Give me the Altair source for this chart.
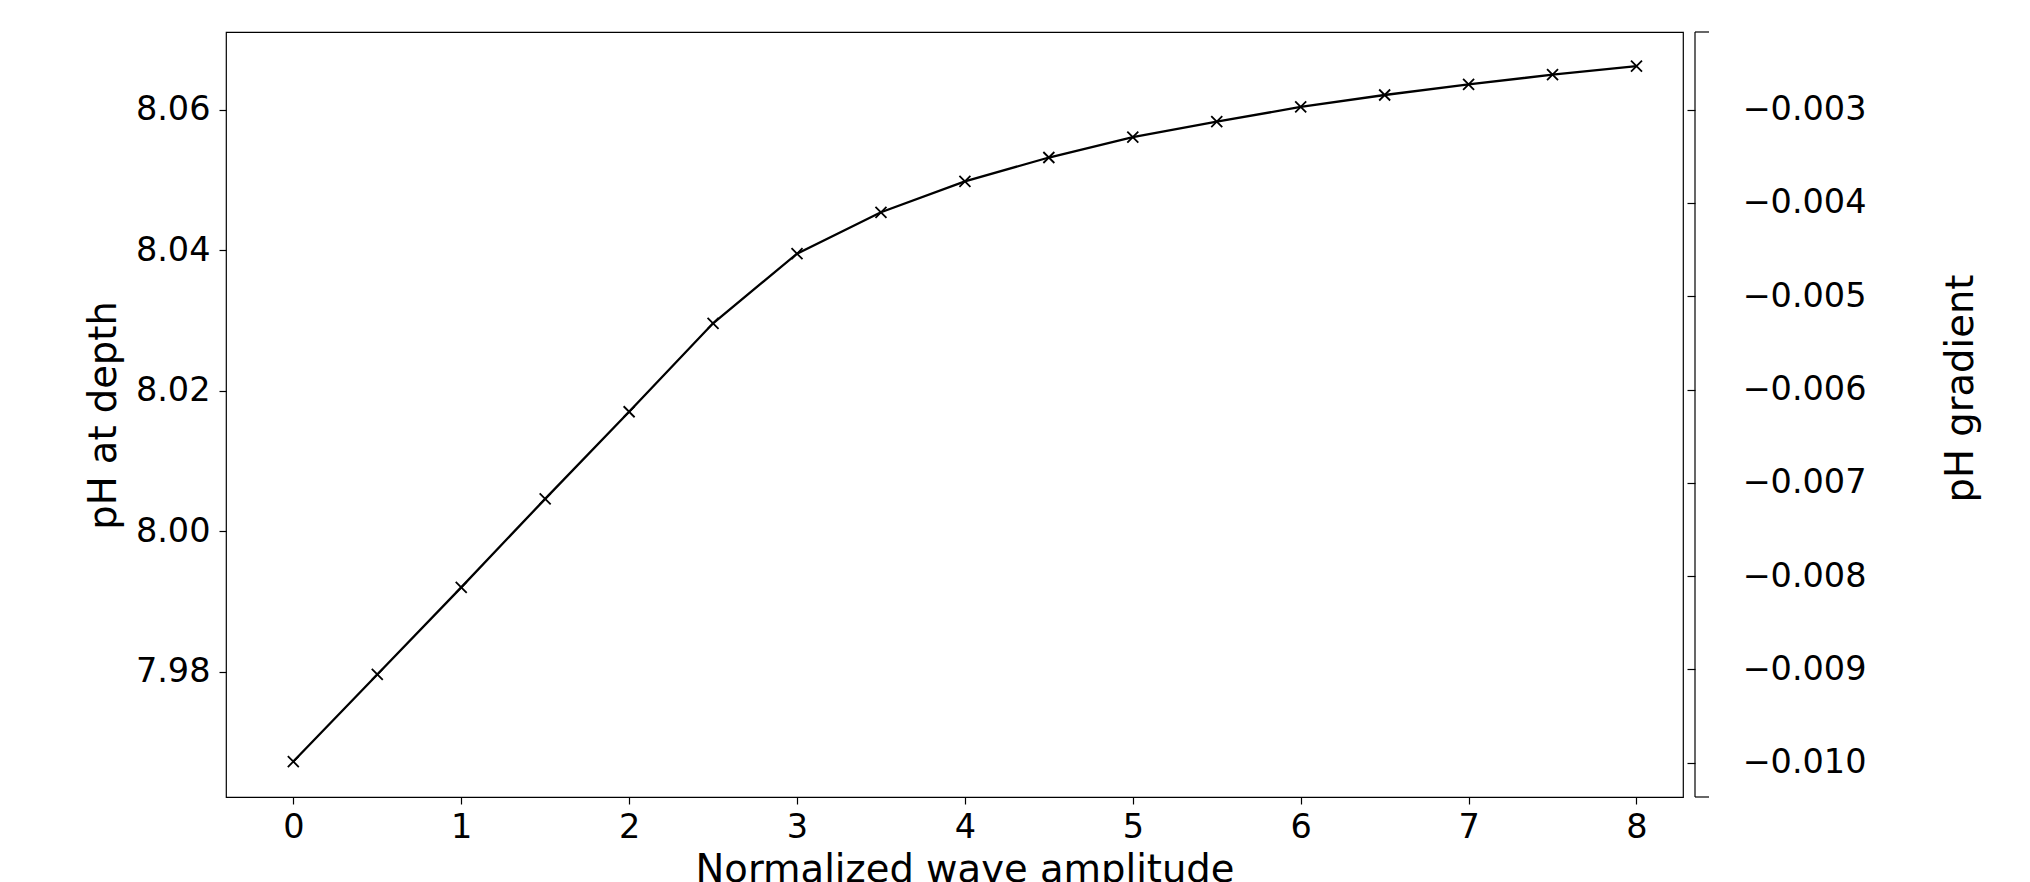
import altair as alt
import pandas as pd

# ---- data ----
amplitude = [0, 0.5, 1, 1.5, 2, 2.5, 3, 3.5, 4, 4.5, 5, 5.5, 6, 6.5, 7, 7.5, 8]
ph_depth = [7.9672, 7.9796, 7.9920, 8.0046, 8.0170, 8.0296, 8.0395, 8.0454,
            8.0498, 8.0532, 8.0561, 8.0583, 8.0604, 8.0621, 8.0636, 8.0650, 8.0662]
x_ticks = [0, 1, 2, 3, 4, 5, 6, 7, 8]
ph_ticks = [7.98, 8.00, 8.02, 8.04, 8.06]
grad_ticks = [-0.010, -0.009, -0.008, -0.007, -0.006, -0.005, -0.004, -0.003]
x_domain = [-0.401, 8.277]
ph_domain = [7.96215, 8.07107]
grad_domain = [-0.010368, -0.002167]

df = pd.DataFrame({"amp": amplitude, "ph": ph_depth})
grad_df = pd.DataFrame({"g": grad_domain})

FONT = "DejaVu Sans"
W, H = 1457, 765

x_enc = alt.X(
    "amp:Q",
    scale=alt.Scale(domain=x_domain, nice=False, zero=False),
    axis=alt.Axis(values=x_ticks, format="d", title="Normalized wave amplitude",
                  tickSize=7, labelPadding=7, titleX=738.5, titleY=84,
                  titleBaseline="alphabetic", titleAlign="center"),
)
y_enc = alt.Y(
    "ph:Q",
    scale=alt.Scale(domain=ph_domain, nice=False, zero=False),
    axis=alt.Axis(values=ph_ticks, format=".2f", title="pH at depth",
                  tickSize=7, labelPadding=9, titleAngle=270, titleX=-111, titleY=383,
                  titleBaseline="alphabetic", titleAlign="center"),
)

base = alt.Chart(df)
line = base.mark_line(color="black", strokeWidth=2.3).encode(x=x_enc, y=y_enc)
pts = base.mark_point(shape="M-1,-1L1,1M-1,1L1,-1", filled=False, color="black",
                      strokeWidth=1.8, size=121, opacity=1).encode(x="amp:Q", y="ph:Q")
left = alt.layer(line, pts)

caps = alt.Chart(grad_df).mark_rule(color="black", strokeWidth=1.2).encode(
    y=alt.Y("g:Q", scale=alt.Scale(domain=grad_domain, nice=False, zero=False),
            axis=alt.Axis(orient="right", values=grad_ticks, format=".3f",
                          title="pH gradient", offset=4, tickSize=8, labelPadding=47,
                          titleAngle=270, titleX=285, titleY=356,
                          titleBaseline="alphabetic", titleAlign="center")),
    x=alt.value(W + 12), x2=alt.value(W + 26),
)
spine = alt.Chart(grad_df.head(1)).mark_rule(color="black", strokeWidth=1.2).encode(
    x=alt.value(W + 12), y=alt.value(0), y2=alt.value(H)
)
right = alt.layer(caps, spine)

chart = (
    alt.layer(left, right)
    .resolve_scale(y="independent")
    .properties(width=W, height=H,
                autosize=alt.AutoSizeParams(type="none"),
                padding={"left": 218, "top": 24, "right": 300, "bottom": 85})
    .configure_view(stroke="black", strokeWidth=1.2)
    .configure_axis(labelFont=FONT, titleFont=FONT, labelFontSize=33.5, titleFontSize=38.5,
                    labelColor="black", titleColor="black", tickColor="black", tickWidth=1.2,
                    domain=False, grid=False, titleFontWeight="normal")
)

chart.save("out.html", embed_options={"renderer": "svg", "actions": False})
